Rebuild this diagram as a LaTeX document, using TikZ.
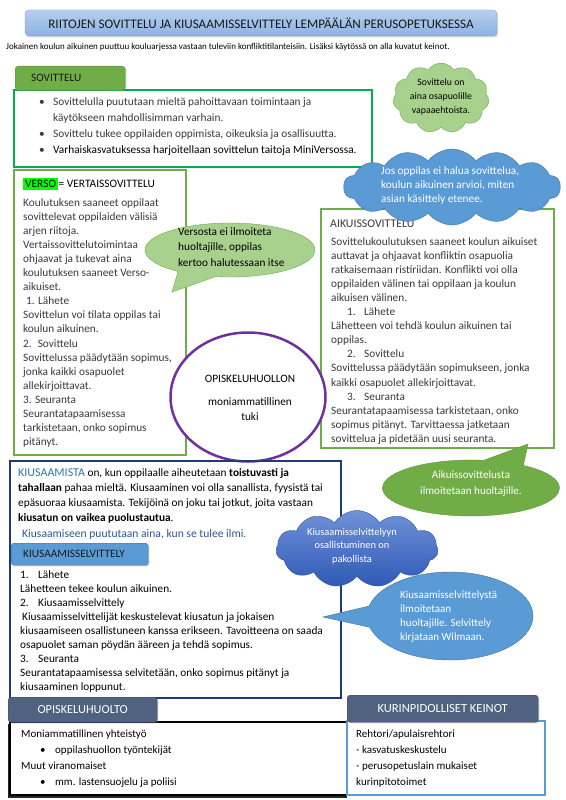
\documentclass[tikz,border=0pt]{standalone}
\usepackage{fontspec}
\setmainfont{Carlito}
\usetikzlibrary{shapes.symbols,shapes.callouts,shapes.geometric,shadows}

\definecolor{titletop}{HTML}{B7CFEE}
\definecolor{titlebot}{HTML}{8CB2E2}
\definecolor{titleline}{HTML}{7EA6D9}
\definecolor{titletext}{HTML}{1A1A1A}
\definecolor{sovgreen}{HTML}{00B050}
\definecolor{tabgreen}{HTML}{70AD47}
\definecolor{palegreen}{HTML}{A9D18E}
\definecolor{cloudblue}{HTML}{5B9BD5}
\definecolor{cloudline}{HTML}{41719C}
\definecolor{deeptop}{HTML}{6F92D8}
\definecolor{deepbot}{HTML}{2F59B6}
\definecolor{navy}{HTML}{1F3A78}
\definecolor{kiusblue}{HTML}{2E75B6}
\definecolor{ilmiblue}{HTML}{2F5597}
\definecolor{slate}{HTML}{50627F}
\definecolor{purp}{HTML}{7030A0}
\definecolor{versohl}{HTML}{00FF00}
\definecolor{bodytext}{HTML}{3A3A3A}

\begin{document}
\begin{tikzpicture}[x=1pt, y=-1pt,
    txt/.style={inner sep=0pt, anchor=north west, align=left, text=bodytext},
    tab/.style={rounded corners=3pt, inner sep=0pt, anchor=north west,
      drop shadow={shadow xshift=1.2pt, shadow yshift=-1.2pt, opacity=.35}},
    boxline/.style={draw=tabgreen, line width=2.2pt},
    puff/.style={cloud, cloud puffs=11, cloud puff arc=115, cloud ignores aspect, inner sep=0pt},
    bubble/.style={ellipse callout, callout pointer arc=28, inner sep=0pt}]
    \fill[white] (0,0) rectangle (565,800);
    \useasboundingbox (0,0) rectangle (565,800);

    % otsikko
    \node[draw=titleline, top color=titletop, bottom color=titlebot, rounded corners=4pt,
      minimum width=472pt, minimum height=26pt, text=titletext,
      drop shadow={shadow xshift=1.2pt, shadow yshift=-1.5pt, opacity=.3},
      font=\fontsize{13.1}{15}\selectfont] (title) at (261,23)
      {RIITOJEN SOVITTELU JA KIUSAAMISSELVITTELY LEMPÄÄLÄN PERUSOPETUKSESSA};
    \node[txt, anchor=west, text=black, font=\fontsize{9}{11}\selectfont] (intro) at (6,47)
      {Jokainen koulun aikuinen puuttuu kouluarjessa vastaan tuleviin konfliktitilanteisiin. Lisäksi käytössä on alla kuvatut keinot.};

    % sovittelu
    \draw[draw=sovgreen, line width=2pt] (14,90) rectangle (372,167);
    \node[tab, fill=tabgreen, draw=tabgreen!85!black, minimum height=24pt, text=titletext,
      text width=78pt, inner xsep=16pt, align=left, font=\fontsize{11.3}{13}\selectfont] (sovtab) at (15,66) {SOVITTELU};
    \node[txt, font=\fontsize{11.3}{16}\selectfont] (sovlist) at (39,97)
      {\makebox[14pt][l]{\textbullet}Sovittelulla puututaan mieltä pahoittavaan toimintaan ja\\
       \hspace*{14pt}käytökseen mahdollisimman varhain.\\
       \makebox[14pt][l]{\textbullet}Sovittelu tukee oppilaiden oppimista, oikeuksia ja osallisuutta.\\
       \makebox[14pt][l]{\textbullet}\textcolor{black}{Varhaiskasvatuksessa harjoitellaan sovittelun taitoja MiniVersossa.}};

    % verso
    \draw[boxline] (14,170) rectangle (186,455);
    \node[txt, anchor=west, text=black, font=\fontsize{11.4}{14}\selectfont] (versohead) at (23,184)
      {{\setlength\fboxsep{2pt}\colorbox{versohl}{VERSO}}\hspace{-2pt} = VERTAISSOVITTELU};
    \node[txt, font=\fontsize{11.3}{14.1}\selectfont] (versotext) at (23,198)
      {Koulutuksen saaneet oppilaat\\
       sovittelevat oppilaiden välisiä\\
       arjen riitoja.\\
       Vertaissovittelutoimintaa\\
       ohjaavat ja tukevat aina\\
       koulutuksen saaneet Verso-\\
       aikuiset.\\
       \hspace*{3pt}1. Lähete\\
       Sovittelun voi tilata oppilas tai\\
       koulun aikuinen.\\
       2.\hspace*{6pt}Sovittelu\\
       Sovittelussa päädytään sopimus,\\
       jonka kaikki osapuolet\\
       allekirjoittavat.\\
       3. Seuranta\\
       Seurantatapaamisessa\\
       tarkistetaan, onko sopimus\\
       pitänyt.};

    % aikuissovittelu
    \draw[boxline] (321,209) rectangle (554,448);
    \node[txt, anchor=west, font=\fontsize{11.8}{14}\selectfont] (aikhead) at (330,224) {AIKUISSOVITTELU};
    \node[txt, font=\fontsize{11.3}{14.1}\selectfont] (aiktext) at (331,237)
      {Sovittelukoulutuksen saaneet koulun aikuiset\\
       auttavat ja ohjaavat konfliktin osapuolia\\
       ratkaisemaan ristiriidan. Konflikti voi olla\\
       oppilaiden välinen tai oppilaan ja koulun\\
       aikuisen välinen.\\
       \hspace*{16pt}\makebox[17pt][l]{1.}Lähete\\
       Lähetteen voi tehdä koulun aikuinen tai\\
       oppilas.\\
       \hspace*{16pt}\makebox[17pt][l]{2.}Sovittelu\\
       Sovittelussa päädytään sopimukseen, jonka\\
       kaikki osapuolet allekirjoittavat.\\
       \hspace*{16pt}\makebox[17pt][l]{3.}Seuranta\\
       Seurantatapaamisessa tarkistetaan, onko\\
       sopimus pitänyt. Tarvittaessa jatketaan\\
       sovittelua ja pidetään uusi seuranta.};

    % opiskeluhuollon tuki
    \node[ellipse, draw=purp, line width=2.5pt, fill=white, minimum width=155pt,
      minimum height=129pt] (ohcircle) at (248,397) {};
    \node[align=center, inner sep=0pt, text=black, font=\fontsize{11.3}{15}\selectfont] (ohtext) at (250,398)
      {OPISKELUHUOLLON\\[8pt]moniammatillinen\\tuki};

    % kiusaaminen
    \draw[draw=navy, line width=2pt] (10,461) rectangle (341,698);
    \node[txt, text=black, font=\fontsize{11.3}{15}\selectfont] (kiustext) at (18,468)
      {{\fontsize{12}{15}\selectfont\color{kiusblue}KIUSAAMISTA} on, kun oppilaalle aiheutetaan \textbf{toistuvasti ja}\\
       \textbf{tahallaan} pahaa mieltä. Kiusaaminen voi olla sanallista, fyysistä tai\\
       epäsuoraa kiusaamista. Tekijöinä on joku tai jotkut, joita vastaan\\
       \textbf{kiusatun on vaikea puolustautua}.};
    \node[txt, anchor=west, text=ilmiblue, font=\fontsize{11.6}{14}\selectfont] (ilmi) at (22,534)
      {Kiusaamiseen puututaan aina, kun se tulee ilmi.};
    \node[tab, fill=cloudblue, draw=cloudline, minimum height=22pt, text width=113pt,
      inner xsep=12pt, align=left, text=titletext, font=\fontsize{11.3}{13}\selectfont] (kiustab) at (11,543) {KIUSAAMISSELVITTELY};
    \node[txt, text=black, font=\fontsize{11.3}{14.1}\selectfont] (selvtext) at (20,570)
      {\makebox[18pt][l]{1.}Lähete\\
       Lähetteen tekee koulun aikuinen.\\
       \makebox[18pt][l]{2.}Kiusaamisselvittely\\
       \hspace*{2pt}Kiusaamisselvittelijät keskustelevat kiusatun ja jokaisen\\
       kiusaamiseen osallistuneen kanssa erikseen. Tavoitteena on saada\\
       osapuolet saman pöydän ääreen ja tehdä sopimus.\\
       \makebox[18pt][l]{3.}Seuranta\\
       Seurantatapaamisessa selvitetään, onko sopimus pitänyt ja\\
       kiusaaminen loppunut.};

    % opiskeluhuolto
    \fill[black!85] (8,724) rectangle (347,798);
    \draw[line width=1.4pt, fill=white] (10,722) rectangle (349,795);
    \node[tab, fill=slate, draw=slate!80!black, minimum width=149pt, minimum height=25pt,
      text=white, font=\fontsize{12.3}{14}\selectfont] (ohtab) at (8,697) {OPISKELUHUOLTO};
    \node[txt, text=black, font=\fontsize{11}{16}\selectfont] (ohlist) at (21,730)
      {Moniammatillinen yhteistyö\\
       \hspace*{19pt}\makebox[15pt][l]{\textbullet}oppilashuollon työntekijät\\
       Muut viranomaiset\\
       \hspace*{19pt}\makebox[15pt][l]{\textbullet}mm. lastensuojelu ja poliisi};

    % kurinpito
    \draw[draw=cloudblue, line width=1.2pt, fill=white] (347,721) rectangle (545,795);
    \node[tab, fill=slate, draw=slate!80!black, minimum width=191pt, minimum height=27pt,
      text=white, font=\fontsize{12.5}{14}\selectfont] (kurintab) at (347,695) {KURINPIDOLLISET KEINOT};
    \node[txt, text=black, font=\fontsize{11}{16}\selectfont] (kurinlist) at (356,730)
      {Rehtori/apulaisrehtori\\
       - kasvatuskeskustelu\\
       - perusopetuslain mukaiset\\
       kurinpitotoimet};

    % pilvet ja puhekuplat
    \node[puff, fill=palegreen, draw=tabgreen, minimum width=96pt, minimum height=70pt] (vapaa) at (441,98) {};
    \node[align=center, inner sep=0pt, text=black, font=\fontsize{9.8}{14}\selectfont] (vapaatext) at (441,97)
      {Sovittelu on\\aina osapuolille\\vapaaehtoista.};

    \node[puff, cloud puffs=14, cloud puff arc=105, fill=cloudblue, draw=cloudline,
      minimum width=217pt, minimum height=76pt] (arvio) at (452,187) {};
    \node[txt, text=white, font=\fontsize{11.3}{14}\selectfont] (arviotext) at (381,166)
      {Jos oppilas ei halua sovittelua,\\koulun aikuinen arvioi, miten\\asian käsittely etenee.};

    \coordinate (versotip) at (172,292);
    \node[bubble, callout absolute pointer={(versotip)}, fill=palegreen, draw=tabgreen,
      minimum width=170pt, minimum height=54pt] (versobubble) at (230,250) {};
    \node[txt, text=black, font=\fontsize{11.3}{15.7}\selectfont] (versobubbletext) at (178,227)
      {Versosta ei ilmoiteta\\huoltajille, oppilas\\kertoo halutessaan itse};

    \coordinate (aikuistip) at (528,444);
    \node[bubble, callout absolute pointer={(aikuistip)}, fill=tabgreen, draw=tabgreen!85!black,
      minimum width=177pt, minimum height=56pt] (aikbubble) at (471,488) {};
    \node[align=center, inner sep=0pt, text=white, font=\fontsize{11.1}{16}\selectfont] (aikbubbletext) at (471,484)
      {Aikuissovittelusta\\ilmoitetaan huoltajille.};

    \node[puff, top color=deeptop, bottom color=deepbot, draw=ilmiblue,
      minimum width=162pt, minimum height=77pt] (pakko) at (357,549) {};
    \node[align=center, inner sep=0pt, text=white, font=\fontsize{10.4}{13.5}\selectfont] (pakkotext) at (352,546)
      {Kiusaamisselvittelyyn\\osallistuminen on\\pakollista};

    \coordinate (selvtip) at (323,617);
    \node[bubble, callout absolute pointer={(selvtip)}, fill=cloudblue, draw=cloudline,
      minimum width=166pt, minimum height=88pt] (wilmabubble) at (450,616) {};
    \node[txt, text=white, font=\fontsize{11}{14}\selectfont] (wilmatext) at (400,591)
      {Kiusaamisselvittelystä\\ilmoitetaan\\huoltajille. Selvittely\\kirjataan Wilmaan.};
\end{tikzpicture}
\end{document}
